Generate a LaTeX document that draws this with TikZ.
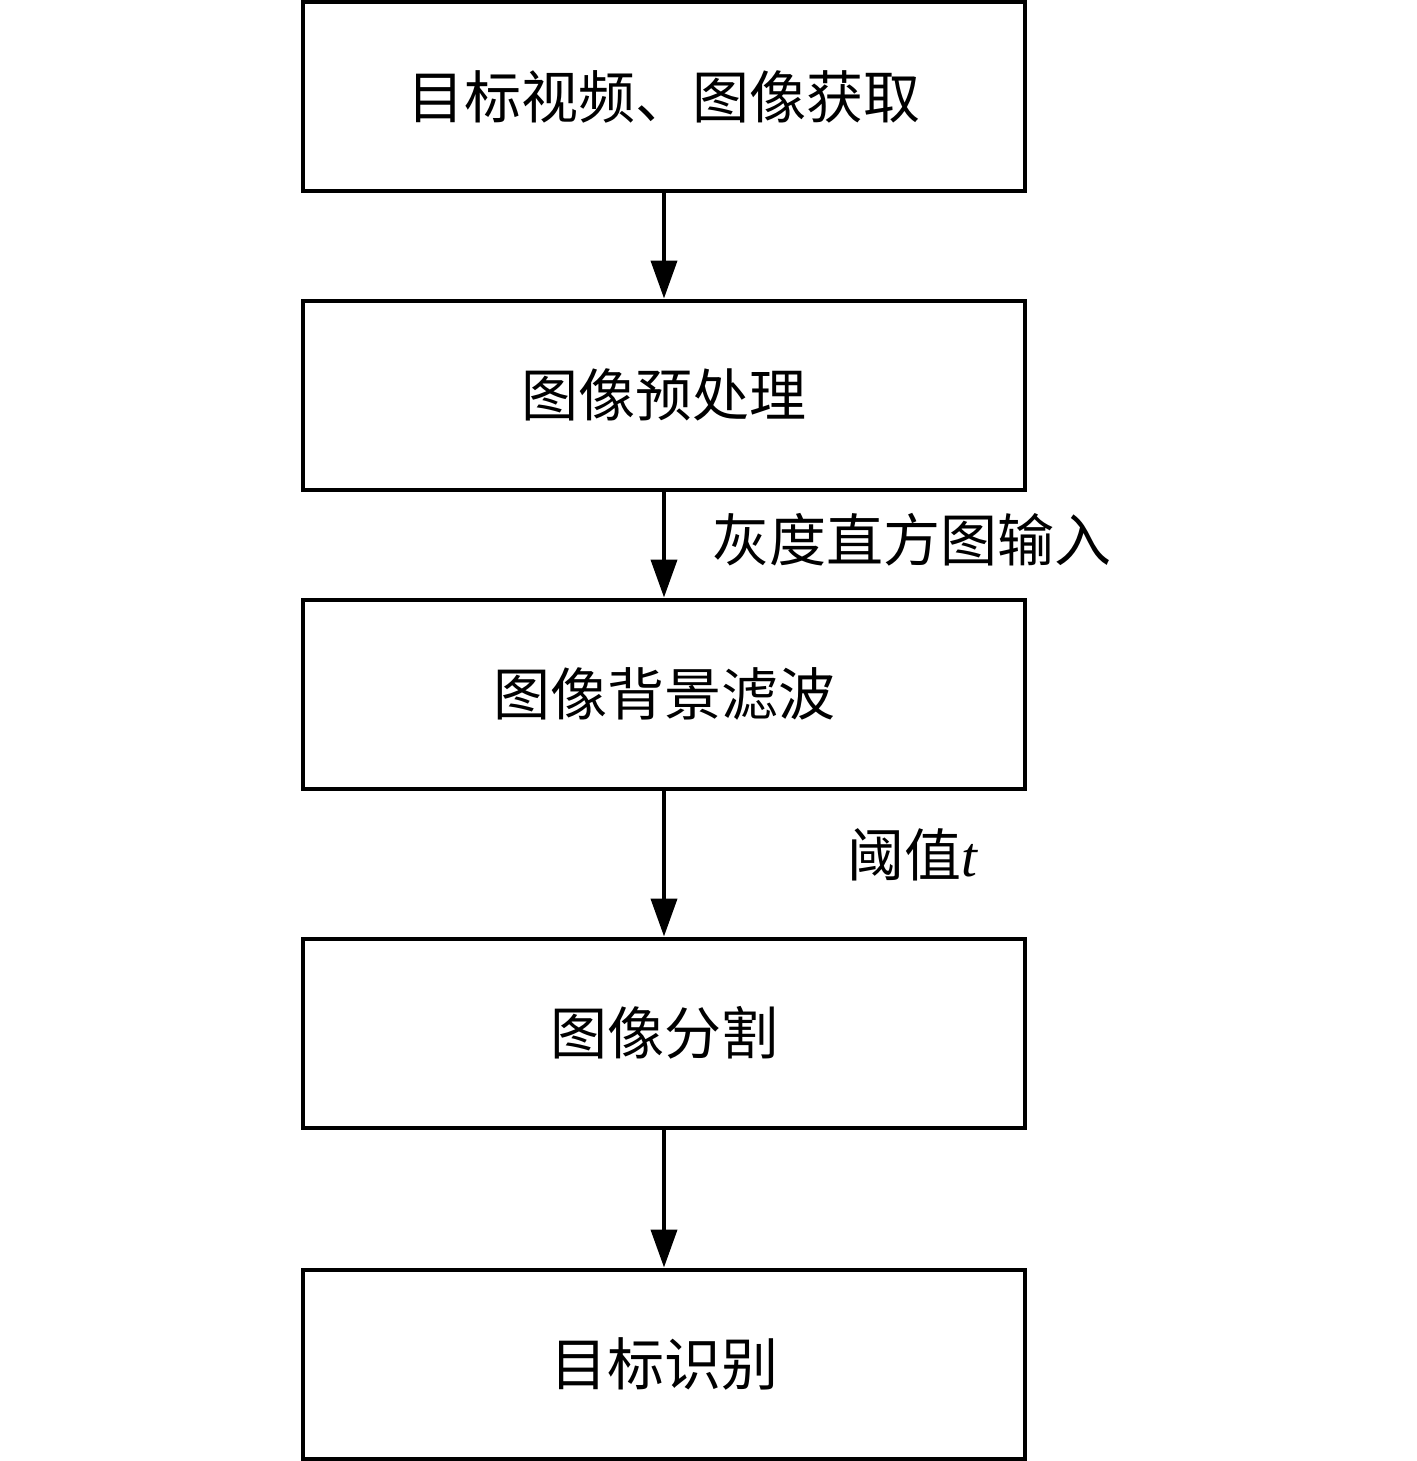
\documentclass[tikz,border=0pt]{standalone}
\usepackage{fontspec}
\newfontfamily\cjk{Noto Sans CJK SC}
\newfontfamily\lserif{Liberation Serif}
\usetikzlibrary{arrows.meta}
\begin{document}
\begin{tikzpicture}[x=0.5pt,y=-0.5pt,
  stepbox/.style={draw, line width=2pt, minimum width=361pt, minimum height=94.5pt, inner sep=0pt, font=\cjk\fontsize{28.5pt}{34pt}\selectfont},
  flow/.style={line width=2pt, -{Triangle[width=13pt,length=19pt]}},
  lbl/.style={font=\cjk\fontsize{28.5pt}{34pt}\selectfont, inner sep=0pt}]
\useasboundingbox (0,0) rectangle (1417,1461);
\node[stepbox] (b1) at (664,96.5) {目标视频、图像获取};
\node[stepbox] (b2) at (664,395) {图像预处理};
\node[stepbox] (b3) at (664,694) {图像背景滤波};
\node[stepbox] (b4) at (664,1033) {图像分割};
\node[stepbox] (b5) at (664,1364) {目标识别};
\draw[flow] (b1) -- (b2);
\draw[flow] (b2) -- (b3);
\draw[flow] (b3) -- (b4);
\draw[flow] (b4) -- (b5);
\node[lbl] (l1) at (912,540) {灰度直方图输入};
\node[lbl] (l2) at (912,855) {阈值{\lserif\itshape t}};
\end{tikzpicture}
\end{document}
